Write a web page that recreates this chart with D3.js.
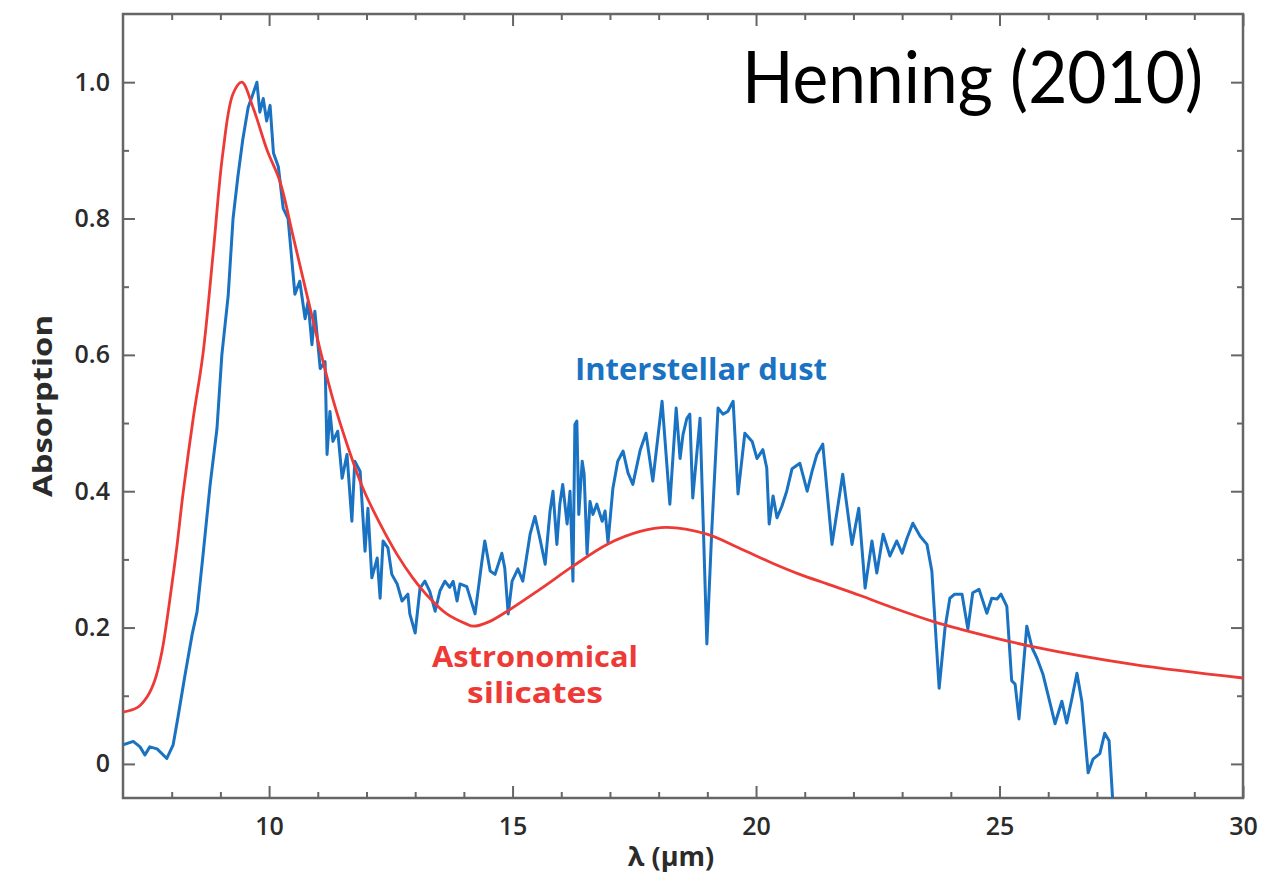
<!DOCTYPE html>
<html>
<head>
<meta charset="utf-8">
<script src="https://cdn.jsdelivr.net/npm/d3@7"></script>
<style>
  html, body { margin: 0; padding: 0; background: #ffffff; }
  svg { display: block; }
</style>
</head>
<body>
<svg id="chart" width="1261" height="876"></svg>
<script>
// Astronomical silicates model (smooth curve)
const redLambda = [7.0, 7.3, 7.5, 7.65, 7.8, 7.95, 8.1, 8.23, 8.44, 8.64, 8.85, 9.05, 9.26, 9.44, 9.67, 9.96, 10.22, 10.49, 10.78, 11.05, 11.31, 11.6, 11.93, 12.28, 12.63, 12.95, 13.3, 13.65, 14.06, 14.19, 14.5, 14.89, 15.56, 16.24, 16.94, 17.62, 18.17, 18.99, 19.67, 20.35, 20.9, 21.46, 22.14, 22.81, 23.63, 24.18, 25.68, 27.74, 30.0];
const redAbs = [0.076, 0.083, 0.099, 0.122, 0.165, 0.235, 0.315, 0.395, 0.506, 0.6, 0.748, 0.896, 0.983, 1.0, 0.963, 0.9, 0.855, 0.775, 0.687, 0.607, 0.535, 0.469, 0.404, 0.352, 0.307, 0.273, 0.243, 0.22, 0.205, 0.202, 0.208, 0.224, 0.256, 0.29, 0.322, 0.341, 0.347, 0.337, 0.316, 0.294, 0.278, 0.264, 0.247, 0.229, 0.209, 0.198, 0.172, 0.146, 0.126];

// Interstellar dust spectrum
const blueLambda = [7.0, 7.21, 7.35, 7.45, 7.55, 7.7, 7.9, 8.03, 8.13, 8.27, 8.42, 8.52, 8.64, 8.79, 8.93, 9.03, 9.16, 9.26, 9.36, 9.46, 9.57, 9.67, 9.75, 9.81, 9.88, 9.95, 10.02, 10.09, 10.19, 10.29, 10.39, 10.53, 10.63, 10.74, 10.8, 10.88, 10.94, 11.05, 11.15, 11.19, 11.25, 11.31, 11.41, 11.5, 11.6, 11.7, 11.76, 11.87, 11.97, 12.03, 12.11, 12.22, 12.28, 12.34, 12.44, 12.52, 12.63, 12.73, 12.85, 12.89, 13.0, 13.1, 13.2, 13.3, 13.41, 13.51, 13.61, 13.71, 13.78, 13.86, 13.92, 14.06, 14.23, 14.37, 14.43, 14.54, 14.64, 14.78, 14.84, 14.91, 14.99, 15.11, 15.21, 15.36, 15.46, 15.56, 15.67, 15.77, 15.83, 15.91, 15.97, 16.03, 16.12, 16.18, 16.24, 16.28, 16.32, 16.36, 16.43, 16.47, 16.53, 16.59, 16.65, 16.73, 16.84, 16.9, 16.96, 17.06, 17.16, 17.27, 17.37, 17.47, 17.62, 17.74, 17.88, 18.07, 18.23, 18.36, 18.44, 18.5, 18.58, 18.64, 18.7, 18.85, 18.99, 19.09, 19.22, 19.32, 19.42, 19.53, 19.63, 19.77, 19.92, 20.02, 20.14, 20.22, 20.27, 20.35, 20.43, 20.53, 20.63, 20.74, 20.9, 21.05, 21.15, 21.25, 21.37, 21.56, 21.78, 21.97, 22.11, 22.24, 22.38, 22.48, 22.61, 22.75, 22.89, 23.0, 23.1, 23.22, 23.37, 23.51, 23.61, 23.67, 23.76, 23.88, 23.98, 24.08, 24.23, 24.35, 24.45, 24.58, 24.74, 24.84, 24.95, 25.03, 25.15, 25.25, 25.32, 25.4, 25.56, 25.67, 25.77, 25.89, 25.99, 26.14, 26.28, 26.38, 26.49, 26.59, 26.69, 26.82, 26.92, 27.06, 27.16, 27.25, 27.33];
const blueAbs = [0.028, 0.033, 0.025, 0.013, 0.025, 0.022, 0.008, 0.028, 0.069, 0.129, 0.19, 0.223, 0.304, 0.41, 0.492, 0.6, 0.687, 0.8, 0.862, 0.916, 0.963, 0.983, 1.0, 0.956, 0.976, 0.943, 0.966, 0.896, 0.876, 0.815, 0.8, 0.689, 0.708, 0.653, 0.678, 0.615, 0.664, 0.58, 0.59, 0.454, 0.517, 0.473, 0.488, 0.419, 0.454, 0.356, 0.444, 0.429, 0.312, 0.375, 0.273, 0.302, 0.243, 0.327, 0.317, 0.278, 0.264, 0.239, 0.249, 0.22, 0.192, 0.258, 0.268, 0.253, 0.224, 0.254, 0.268, 0.259, 0.268, 0.239, 0.264, 0.26, 0.22, 0.297, 0.327, 0.283, 0.278, 0.309, 0.287, 0.22, 0.268, 0.286, 0.268, 0.337, 0.363, 0.331, 0.293, 0.371, 0.4, 0.322, 0.381, 0.41, 0.352, 0.4, 0.268, 0.498, 0.503, 0.366, 0.444, 0.425, 0.308, 0.385, 0.366, 0.381, 0.356, 0.371, 0.325, 0.404, 0.444, 0.459, 0.427, 0.41, 0.46, 0.485, 0.415, 0.532, 0.381, 0.522, 0.448, 0.483, 0.507, 0.513, 0.39, 0.507, 0.176, 0.341, 0.522, 0.513, 0.517, 0.532, 0.396, 0.485, 0.473, 0.448, 0.461, 0.434, 0.352, 0.393, 0.361, 0.378, 0.4, 0.433, 0.441, 0.4, 0.429, 0.454, 0.469, 0.322, 0.425, 0.322, 0.375, 0.258, 0.327, 0.28, 0.337, 0.305, 0.327, 0.309, 0.331, 0.353, 0.334, 0.322, 0.283, 0.214, 0.111, 0.199, 0.243, 0.249, 0.249, 0.198, 0.251, 0.256, 0.221, 0.243, 0.242, 0.249, 0.231, 0.122, 0.117, 0.066, 0.202, 0.17, 0.155, 0.132, 0.103, 0.059, 0.092, 0.06, 0.097, 0.133, 0.092, -0.013, 0.007, 0.015, 0.045, 0.034, -0.06];

// Axis ticks
const xMajorTicks = [10, 15, 20, 25, 30];
const xMinorTicks = [8, 9, 11, 12, 13, 14, 16, 17, 18, 19, 21, 22, 23, 24, 26, 27, 28, 29];
const yMajorTicks = [0, 0.2, 0.4, 0.6, 0.8, 1.0];
const yMinorTicks = [0.1, 0.3, 0.5, 0.7, 0.9];
const yTickLabels = ["0", "0.2", "0.4", "0.6", "0.8", "1.0"];

const xDomain = [7, 30];
const yDomain = [-0.05, 1.1];

const margin = { left: 123, top: 14, right: 18, bottom: 78 };
const W = 1261, H = 876;
const iw = W - margin.left - margin.right;
const ih = H - margin.top - margin.bottom;

const svg = d3.select("#chart");
const g = svg.append("g").attr("transform", `translate(${margin.left},${margin.top})`);

const x = d3.scaleLinear().domain(xDomain).range([0, iw]);
const y = d3.scaleLinear().domain(yDomain).range([ih, 0]);

const axisColor = "#666";
const labelFont = "'Open Sans', 'Noto Sans', sans-serif";

svg.append("defs").append("clipPath").attr("id", "plotClip")
  .append("rect").attr("x", 0).attr("y", 0).attr("width", iw).attr("height", ih);

// Ticks drawn inward on all four sides
function styleAxis(sel) {
  sel.select(".domain").remove();
  sel.selectAll(".tick line").attr("stroke", axisColor).attr("stroke-width", 2);
}

g.append("g").attr("transform", `translate(0,${ih})`)
  .call(d3.axisBottom(x).tickValues(xMinorTicks).tickSize(-6).tickFormat(""))
  .call(styleAxis);
g.append("g").attr("transform", `translate(0,${ih})`)
  .call(d3.axisBottom(x).tickValues(xMajorTicks).tickSize(-12).tickPadding(14).tickFormat(d3.format("d")))
  .call(styleAxis)
  .call(s => s.selectAll("text")
    .attr("font-family", labelFont).attr("font-weight", 600)
    .attr("font-size", 25).attr("fill", "#2b2b2b").attr("dy", "0.9em"));

g.append("g")
  .call(d3.axisTop(x).tickValues(xMinorTicks).tickSize(-6).tickFormat(""))
  .call(styleAxis);
g.append("g")
  .call(d3.axisTop(x).tickValues(xMajorTicks).tickSize(-12).tickFormat(""))
  .call(styleAxis);

g.append("g")
  .call(d3.axisLeft(y).tickValues(yMinorTicks).tickSize(-6).tickFormat(""))
  .call(styleAxis);
g.append("g")
  .call(d3.axisLeft(y).tickValues(yMajorTicks).tickSize(-12).tickPadding(13)
    .tickFormat((d, i) => yTickLabels[i]))
  .call(styleAxis)
  .call(s => s.selectAll("text")
    .attr("font-family", labelFont).attr("font-weight", 600)
    .attr("font-size", 25).attr("fill", "#2b2b2b"));

g.append("g").attr("transform", `translate(${iw},0)`)
  .call(d3.axisRight(y).tickValues(yMinorTicks).tickSize(-6).tickFormat(""))
  .call(styleAxis);
g.append("g").attr("transform", `translate(${iw},0)`)
  .call(d3.axisRight(y).tickValues(yMajorTicks).tickSize(-12).tickFormat(""))
  .call(styleAxis);

// Plot frame
g.append("rect")
  .attr("x", 0).attr("y", 0).attr("width", iw).attr("height", ih)
  .attr("fill", "none").attr("stroke", axisColor).attr("stroke-width", 2.5);

// Curves
const blueData = blueLambda.map((l, i) => [l, blueAbs[i]]);
const redData = redLambda.map((l, i) => [l, redAbs[i]]);

const curves = g.append("g").attr("clip-path", "url(#plotClip)");

curves.append("path")
  .datum(blueData)
  .attr("d", d3.line().x(d => x(d[0])).y(d => y(d[1])).curve(d3.curveLinear))
  .attr("fill", "none")
  .attr("stroke", "#1a72c2")
  .attr("stroke-width", 3)
  .attr("stroke-linejoin", "round");

curves.append("path")
  .datum(redData)
  .attr("d", d3.line().x(d => x(d[0])).y(d => y(d[1])).curve(d3.curveCatmullRom.alpha(0.5)))
  .attr("fill", "none")
  .attr("stroke", "#ee3a36")
  .attr("stroke-width", 2.8);

// Annotations
g.append("text")
  .attr("x", 701 - margin.left).attr("y", 380 - margin.top)
  .attr("text-anchor", "middle")
  .attr("font-family", labelFont).attr("font-weight", 700)
  .attr("font-size", 30).attr("fill", "#1a72c2")
  .attr("textLength", 252).attr("lengthAdjust", "spacingAndGlyphs")
  .text("Interstellar dust");

g.append("text")
  .attr("x", 535 - margin.left).attr("y", 667 - margin.top)
  .attr("text-anchor", "middle")
  .attr("font-family", labelFont).attr("font-weight", 700)
  .attr("font-size", 28).attr("fill", "#ee3a36")
  .attr("textLength", 206).attr("lengthAdjust", "spacingAndGlyphs")
  .text("Astronomical");

g.append("text")
  .attr("x", 535 - margin.left).attr("y", 703 - margin.top)
  .attr("text-anchor", "middle")
  .attr("font-family", labelFont).attr("font-weight", 700)
  .attr("font-size", 28).attr("fill", "#ee3a36")
  .attr("textLength", 136).attr("lengthAdjust", "spacingAndGlyphs")
  .text("silicates");

// Axis titles
svg.append("text")
  .attr("transform", `translate(52,${406}) rotate(-90)`)
  .attr("text-anchor", "middle")
  .attr("font-family", labelFont).attr("font-weight", 700)
  .attr("font-size", 27).attr("fill", "#2b2b2b")
  .attr("textLength", 182).attr("lengthAdjust", "spacingAndGlyphs")
  .text("Absorption");

svg.append("text")
  .attr("x", 671).attr("y", 866)
  .attr("text-anchor", "middle")
  .attr("font-family", labelFont).attr("font-weight", 700)
  .attr("font-size", 27).attr("fill", "#2b2b2b")
  .text("λ (μm)");

// Title
svg.append("text")
  .attr("x", 1203).attr("y", 103)
  .attr("text-anchor", "end")
  .attr("font-family", "Lato, 'Open Sans', sans-serif").attr("font-weight", 400)
  .attr("font-size", 72).attr("fill", "#000")
  .attr("textLength", 461).attr("lengthAdjust", "spacingAndGlyphs")
  .text("Henning (2010)");
</script>
</body>
</html>
